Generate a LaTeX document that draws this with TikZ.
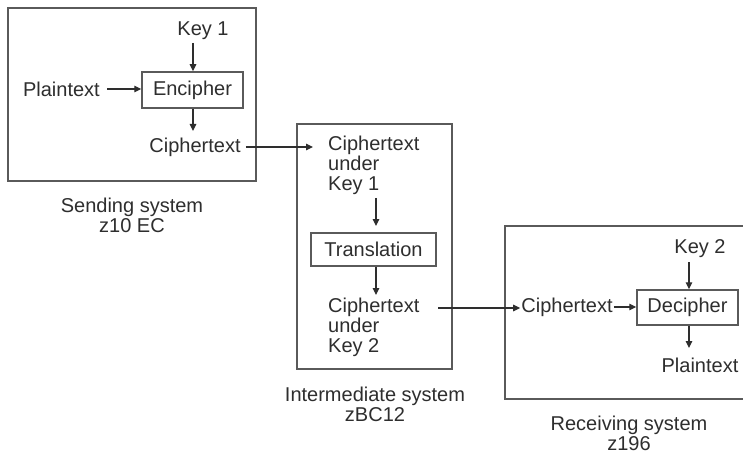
\documentclass[tikz,border=0pt]{standalone}
\usepackage{fontspec}
\setmainfont{Liberation Sans}
\usetikzlibrary{arrows.meta}
\definecolor{ink}{HTML}{2E2E2E}
\definecolor{frame}{HTML}{5A5A5A}
\begin{document}
\begin{tikzpicture}[x=1pt,y=-1pt,
  every node/.style={text=ink,font=\fontsize{20}{20}\selectfont,inner sep=1pt},
  sysbox/.style={draw=frame,line width=1.6pt,minimum width=0,inner sep=0},
  procbox/.style={draw=frame,line width=1.5pt,inner sep=0},
  txt/.style={align=left},
  lab/.style={align=center},
  conn/.style={draw=ink,line width=1.2pt,-{Triangle[length=7pt,width=6.5pt]}}]
\useasboundingbox[fill=white] (0,0) rectangle (743,454);
% sending system
\node[sysbox,minimum width=248,minimum height=173] (send) at (132,94.5) {};
\node (key1) at (203,31) {Key 1};
\node[procbox,minimum width=101,minimum height=36] (enc) at (192.5,90) {Encipher};
\node[anchor=east] (plain1) at (101,89) {Plaintext};
\node (ciph1) at (195,147) {Ciphertext};
\node[lab] (sendlab) at (132,215) {Sending system\\z10 EC};
% intermediate system
\node[sysbox,minimum width=155,minimum height=245] (inter) at (374.5,246.5) {};
\node[txt,anchor=west] (ck1) at (327,165) {Ciphertext\\under\\Key 1};
\node[procbox,minimum width=125,minimum height=33] (trans) at (373.5,249.5) {Translation};
\node[txt,anchor=west] (ck2) at (327,327) {Ciphertext\\under\\Key 2};
\node[lab] (interlab) at (375,404) {Intermediate system\\zBC12};
% receiving system
\node[sysbox,minimum width=260,minimum height=173,anchor=north west] (recv) at (504,225) {};
\node (ciph3) at (567,307) {Ciphertext};
\node[procbox,minimum width=101,minimum height=35] (dec) at (687.5,307.5) {Decipher};
\node (key2) at (700,249) {Key 2};
\node (plain3) at (700,365) {Plaintext};
\node[lab] (recvlab) at (629,433) {Receiving system\\z196};
% connectors
\coordinate (k1s) at (193,43);
\draw[conn] (k1s) -- (k1s |- enc.north);
\draw[conn] (plain1.east) ++(6,0) coordinate (p1e) -- (enc.west |- p1e);
\coordinate (encb) at (193,0);
\draw[conn] (encb |- enc.south) -- (193,131);
\draw[conn] (ciph1.east) ++(4,0) coordinate (c1e) -- (313,147);
\coordinate (ck1b) at (376,198);
\draw[conn] (ck1b) -- (376,226);
\draw[conn] (376,0 |- trans.south) -- (376,295);
\coordinate (ck2e) at (438,308);
\draw[conn] (ck2e) -- (ck2e -| ciph3.west);
\draw[conn] (ciph3.east) -- (dec.west |- ciph3.east);
\coordinate (k2s) at (689,262);
\draw[conn] (k2s) -- (k2s |- dec.north);
\draw[conn] (689,0 |- dec.south) -- (689,348);
\end{tikzpicture}
\end{document}
